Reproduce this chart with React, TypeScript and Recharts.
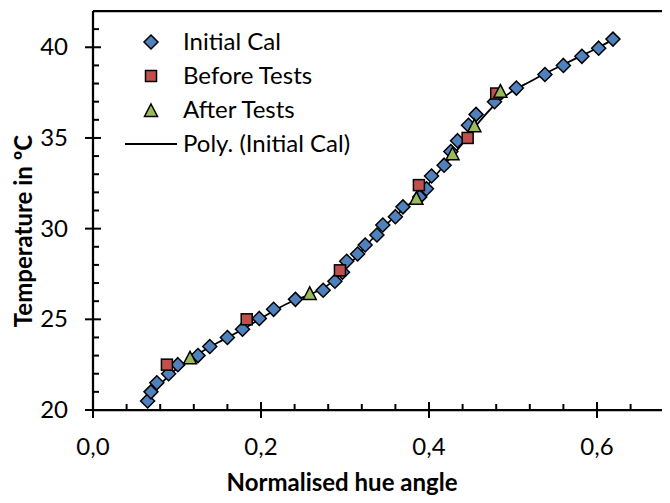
import { ComposedChart, Line, ReferenceLine, Scatter, XAxis, YAxis } from 'recharts'

// Initial calibration (hue angle, temperature)
const initialHue = [
  0.065, 0.069, 0.076, 0.09, 0.101, 0.125, 0.139, 0.16, 0.178, 0.198, 0.215, 0.241, 0.274, 0.288, 0.297, 0.302,
  0.315, 0.324, 0.338, 0.345, 0.36, 0.369, 0.389, 0.397, 0.403, 0.418, 0.426, 0.434, 0.447, 0.456, 0.478, 0.504,
  0.538, 0.56, 0.582, 0.602, 0.619,
]
const initialTemp = [
  20.5, 21.0, 21.5, 22.0, 22.5, 23.0, 23.5, 24.0, 24.45, 25.05, 25.55, 26.1, 26.6, 27.1, 27.6, 28.2, 28.6, 29.1,
  29.65, 30.2, 30.66, 31.2, 31.75, 32.2, 32.9, 33.5, 34.25, 34.85, 35.7, 36.3, 37.0, 37.75, 38.5, 39.0, 39.5,
  39.95, 40.45,
]

const beforeHue = [0.088, 0.183, 0.294, 0.388, 0.446, 0.48]
const beforeTemp = [22.5, 25.0, 27.7, 32.4, 35.0, 37.45]

const afterHue = [0.1155, 0.258, 0.385, 0.428, 0.454, 0.485]
const afterTemp = [22.85, 26.4, 31.65, 34.1, 35.65, 37.55]

// polynomial trendline
const polyHue = [
  0.065, 0.08, 0.1, 0.12, 0.15, 0.18, 0.2, 0.22, 0.24, 0.26, 0.28, 0.3, 0.32, 0.34, 0.36, 0.38, 0.4, 0.42, 0.44,
  0.46, 0.48, 0.5, 0.52, 0.54, 0.56, 0.58, 0.6, 0.62,
]
const polyTemp = [
  20.6, 21.4, 22.3, 22.95, 23.75, 24.5, 25.05, 25.6, 26.05, 26.4, 26.9, 27.75, 28.8, 29.8, 30.7, 31.5, 32.5, 33.6,
  34.7, 35.9, 36.9, 37.6, 38.1, 38.6, 39.05, 39.5, 39.95, 40.45,
]

const xTicks = [0, 0.04, 0.08, 0.12, 0.16, 0.2, 0.24, 0.28, 0.32, 0.36, 0.4, 0.44, 0.48, 0.52, 0.56, 0.6, 0.64, 0.68]
const xMajor = [0, 0.2, 0.4, 0.6]
const yTicks = [20, 21, 22, 23, 24, 25, 26, 27, 28, 29, 30, 31, 32, 33, 34, 35, 36, 37, 38, 39, 40, 41]
const yMajor = [20, 25, 30, 35, 40]

const toPoints = (xs: number[], ys: number[]) => xs.map((x, i) => ({ x, y: ys[i] }))
const initialData = toPoints(initialHue, initialTemp)
const beforeData = toPoints(beforeHue, beforeTemp)
const afterData = toPoints(afterHue, afterTemp)
const polyData = toPoints(polyHue, polyTemp)

const FONT = 'Lato, sans-serif'
const BLUE = '#4f81bd'
const RED = '#c0504d'
const GREEN = '#9bbb59'

const Diamond = ({ cx, cy }: any) => (
  <path d={`M${cx},${cy - 7}L${cx + 7},${cy}L${cx},${cy + 7}L${cx - 7},${cy}Z`} fill={BLUE} stroke="#000" strokeWidth={1.5} />
)
const Square = ({ cx, cy }: any) => (
  <rect x={cx - 5.5} y={cy - 5.5} width={11} height={11} fill={RED} stroke="#000" strokeWidth={1.5} />
)
const Triangle = ({ cx, cy }: any) => (
  <path d={`M${cx},${cy - 7}L${cx + 6.5},${cy + 5.5}L${cx - 6.5},${cy + 5.5}Z`} fill={GREEN} stroke="#000" strokeWidth={1.5} />
)

const fmt = (v: number) => v.toFixed(1).replace('.', ',')

function XTick({ x, y, payload }: any) {
  const major = xMajor.some((m) => Math.abs(m - payload.value) < 1e-6)
  return (
    <g>
      <line x1={x} x2={x} y1={major ? y - 8 : y - 6} y2={major ? y + 8 : y} stroke="#000" strokeWidth={2} />
      {major && (
        <text x={x} y={y + 45} textAnchor="middle" fontFamily={FONT} fontSize={24} fill="#000">
          {fmt(payload.value)}
        </text>
      )}
    </g>
  )
}

function YTick({ x, y, payload }: any) {
  const major = yMajor.includes(payload.value)
  return (
    <g>
      <line x1={major ? x - 8 : x} x2={major ? x + 8 : x + 6} y1={y} y2={y} stroke="#000" strokeWidth={2} />
      {major && (
        <text x={x - 25} y={y + 8} textAnchor="end" fontFamily={FONT} fontSize={24} fill="#000">
          {payload.value}
        </text>
      )}
    </g>
  )
}

const legendRows = [
  { label: 'Initial Cal', mark: <Diamond cx={58} cy={16} /> },
  { label: 'Before Tests', mark: <Square cx={58} cy={16} /> },
  { label: 'After Tests', mark: <Triangle cx={58} cy={17} /> },
  { label: 'Poly. (Initial Cal)', mark: <line x1={32} x2={84} y1={16} y2={16} stroke="#000" strokeWidth={2} /> },
]

export default function App() {
  return (
    <div style={{ position: 'relative', margin: -8, width: 670, height: 503, overflow: 'hidden', background: '#fff' }}>
      <ComposedChart width={720} height={503} margin={{ top: 11, right: 39, bottom: 0, left: 0 }}>
        <XAxis
          type="number"
          dataKey="x"
          domain={[0, 0.7]}
          ticks={xTicks}
          interval={0}
          height={93}
          tickSize={0}
          tickMargin={0}
          tickLine={false}
          tick={<XTick />}
          axisLine={{ stroke: '#000', strokeWidth: 2.25 }}
        />
        <YAxis
          type="number"
          dataKey="y"
          domain={[20, 42]}
          ticks={yTicks}
          interval={0}
          width={93}
          tickSize={0}
          tickMargin={0}
          tickLine={false}
          tick={<YTick />}
          axisLine={{ stroke: '#000', strokeWidth: 2.25 }}
        />
        <ReferenceLine y={42} stroke="#000" strokeWidth={2.25} />
        <ReferenceLine x={0.7} stroke="#000" strokeWidth={2.25} />
        <Line data={polyData} dataKey="y" type="monotone" stroke="#000" strokeWidth={1.75} dot={false} isAnimationActive={false} />
        <Scatter data={initialData} shape={<Diamond />} isAnimationActive={false} />
        <Scatter data={beforeData} shape={<Square />} isAnimationActive={false} />
        <Scatter data={afterData} shape={<Triangle />} isAnimationActive={false} />
      </ComposedChart>

      <svg width={670} height={503} style={{ position: 'absolute', left: 0, top: 0, pointerEvents: 'none' }}>
        <g transform="translate(93, 26)">
          {legendRows.map((row, i) => (
            <g key={row.label} transform={`translate(0, ${i * 34})`}>
              {row.mark}
              <text x={90} y={24} fontFamily={FONT} fontSize={24} fill="#000">
                {row.label}
              </text>
            </g>
          ))}
        </g>
        <text
          transform="translate(32, 231) rotate(-90)"
          textAnchor="middle"
          fontFamily={FONT}
          fontWeight={700}
          fontSize={24}
          fill="#000"
        >
          Temperature in ºC
        </text>
        <text x={342} y={491} textAnchor="middle" fontFamily={FONT} fontWeight={700} fontSize={24} fill="#000">
          Normalised hue angle
        </text>
      </svg>
    </div>
  )
}
